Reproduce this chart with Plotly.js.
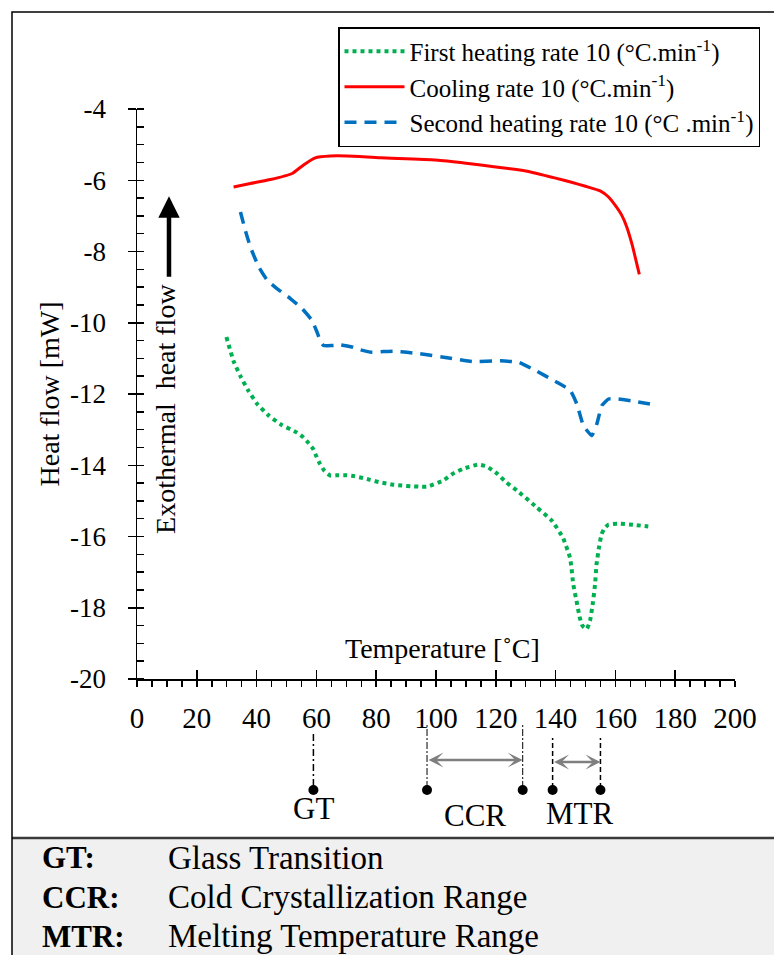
<!DOCTYPE html>
<html>
<head>
<meta charset="utf-8">
<script src="https://cdn.plot.ly/plotly-3.0.1.min.js"></script>
<style>html,body{margin:0;padding:0;background:#fff;}#chart{width:774px;height:955px;}</style>
</head>
<body>
<div id="chart"></div>
<script>
// ---- data ----
const firstHeatT = [29.9, 32.3, 34.6, 37.2, 40.2, 44.0, 48.4, 53.2, 55.4, 57.2, 58.9, 60.0, 61.2, 62.7, 64.7, 67.4, 70.2, 72.8, 75.6, 78.0, 80.8, 83.4, 86.0, 88.7, 91.6, 94.2, 97.1, 102.4, 105.6, 109.1, 114.1, 116.9, 120.5, 123.5, 127.1, 133.8, 138.8, 142.5, 144.8, 145.3, 145.9, 147.0, 148.1, 149.0, 150.4, 151.5, 152.4, 153.2, 153.7, 154.6, 155.4, 156.2, 157.6, 160.6, 165.9, 171.0];
const firstHeatHF = [-10.40, -11.08, -11.50, -11.90, -12.28, -12.60, -12.87, -13.07, -13.20, -13.36, -13.54, -13.75, -13.96, -14.16, -14.29, -14.28, -14.28, -14.31, -14.36, -14.41, -14.47, -14.51, -14.55, -14.57, -14.59, -14.60, -14.60, -14.43, -14.24, -14.10, -13.98, -14.03, -14.24, -14.48, -14.71, -15.19, -15.56, -16.04, -16.59, -16.87, -17.34, -17.81, -18.28, -18.51, -18.60, -18.37, -17.90, -17.34, -16.78, -16.26, -15.93, -15.79, -15.67, -15.64, -15.67, -15.72];

const coolingT = [32.3, 37.9, 44.6, 51.9, 55.7, 59.6, 64.7, 70.2, 81.4, 100, 110, 120, 130, 140, 145, 150, 154.9, 157.7, 159.9, 162.1, 163.8, 165.5, 166.6, 168.0];
const coolingHF = [-6.19, -6.09, -5.98, -5.81, -5.57, -5.37, -5.32, -5.32, -5.37, -5.43, -5.52, -5.63, -5.74, -5.94, -6.05, -6.17, -6.30, -6.47, -6.70, -6.98, -7.31, -7.78, -8.15, -8.64];

const secondHeatT = [34.6, 36.2, 37.9, 40.7, 43.5, 46.8, 51.3, 55.2, 58.5, 60.2, 61.3, 62.4, 65.2, 68.0, 71.9, 74.7, 78.6, 82.5, 86.4, 90.3, 94.5, 103.7, 112.0, 121.5, 127.6, 133.7, 140.4, 144.9, 147.1, 149.3, 152.1, 153.8, 155.5, 157.7, 159.9, 166.0, 172.7];
const secondHeatHF = [-6.89, -7.40, -7.87, -8.43, -8.80, -9.04, -9.32, -9.60, -9.93, -10.26, -10.50, -10.64, -10.64, -10.62, -10.68, -10.76, -10.83, -10.81, -10.80, -10.83, -10.87, -10.98, -11.09, -11.07, -11.11, -11.36, -11.67, -11.90, -12.28, -12.89, -13.17, -12.84, -12.32, -12.14, -12.13, -12.20, -12.30];

const seriesNames = [
  'First heating rate 10 (°C.min<sup>-1</sup>)',
  'Cooling rate 10 (°C.min<sup>-1</sup>)',
  'Second heating rate 10 (°C .min<sup>-1</sup>)'
];

const yTickVals = [-20, -18, -16, -14, -12, -10, -8, -6, -4];
const yTickText = ['-20', '-18', '-16', '-14', '-12', '-10', '-8', '-6', '-4'];
const xTickVals = [0, 20, 40, 60, 80, 100, 120, 140, 160, 180, 200];
const xTickText = ['0', '20', '40', '60', '80', '100', '120', '140', '160', '180', '200'];

// marker temperatures (°C)
const glassTransition = [59];
const coldCrystRange = [97, 129];
const meltRange = [139, 155];

const legendKeys = ['GT:', 'CCR:', 'MTR:'];
const legendDescs = ['Glass Transition', 'Cold Crystallization Range', 'Melting Temperature Range'];

// ---- layout helpers (pixel -> paper) ----
const L = 137, R = 39, T = 109, B = 276, W = 774, H = 955;
const pw = W - L - R, ph = H - T - B;
const px = v => (v - L) / pw;
const py = v => (H - B - v) / ph;

const FONT = 'Liberation Serif';

const traces = [
  {x: firstHeatT, y: firstHeatHF, name: seriesNames[0], mode: 'lines',
   line: {color: '#00b050', width: 4, dash: '4px,4px', shape: 'spline', smoothing: 0.4}},
  {x: coolingT, y: coolingHF, name: seriesNames[1], mode: 'lines',
   line: {color: '#ff0000', width: 3, shape: 'spline', smoothing: 0.5}},
  {x: secondHeatT, y: secondHeatHF, name: seriesNames[2], mode: 'lines',
   line: {color: '#0070c0', width: 3.5, dash: '12px,8px', shape: 'spline', smoothing: 0.4}},
  {x: [], y: [], xaxis: 'x2', yaxis: 'y2', showlegend: false, hoverinfo: 'skip', mode: 'lines'}
];

const shapes = [];
const annotations = [];

// outer frame and bottom grey panel
shapes.push({type: 'rect', xref: 'paper', yref: 'paper', x0: px(12), x1: px(790), y0: py(838), y1: py(970),
  fillcolor: '#f0f0f0', line: {width: 0}, layer: 'below'});
shapes.push({type: 'line', xref: 'paper', yref: 'paper', x0: px(12), x1: px(790), y0: py(838), y1: py(838),
  line: {color: '#3a3a3a', width: 2.5}});
shapes.push({type: 'rect', xref: 'paper', yref: 'paper', x0: px(12), x1: px(790), y0: py(970), y1: py(12),
  line: {color: '#000', width: 1.5}, fillcolor: 'rgba(0,0,0,0)'});

// marker lines and dots below the axis
function vline(t, top, bot, dash, w) {
  shapes.push({type: 'line', xref: 'x', yref: 'paper', x0: t, x1: t, y0: py(bot), y1: py(top),
    line: {color: '#000', width: w, dash: dash}});
}
function dot(t) {
  shapes.push({type: 'circle', xref: 'x', yref: 'paper', xsizemode: 'pixel', ysizemode: 'pixel',
    xanchor: t, yanchor: py(790), x0: -5, x1: 5, y0: -5, y1: 5,
    fillcolor: '#000', line: {color: '#000', width: 0}});
}
glassTransition.forEach(t => { vline(t, 733, 786, '7px,3px,2px,3px', 1.5); dot(t); });
coldCrystRange.forEach(t => { vline(t, 725, 788, '7px,2px,2px,2px', 1); dot(t); });
meltRange.forEach(t => { vline(t, 738, 788, '5px,3px', 1.5); dot(t); });

// grey double arrows
function dblArrow(a, b, ypix) {
  annotations.push({x: b, y: py(ypix), xref: 'x', yref: 'paper', ax: a, axref: 'x', ay: 0, ayref: 'pixel',
    text: '', showarrow: true, arrowside: 'end+start', arrowhead: 3, startarrowhead: 3,
    arrowsize: 1.0, startarrowsize: 1.0, arrowwidth: 2.5, arrowcolor: '#7f7f7f', standoff: 0, startstandoff: 0});
}
dblArrow(coldCrystRange[0], coldCrystRange[1], 760);
dblArrow(meltRange[0], meltRange[1], 762);

// marker labels
const lblFont = {family: FONT, size: 31, color: '#000'};
annotations.push({x: glassTransition[0], y: py(808), xref: 'x', yref: 'paper', xanchor: 'center', yanchor: 'middle', text: 'GT', showarrow: false, font: lblFont});
annotations.push({x: (coldCrystRange[0] + coldCrystRange[1]) / 2, y: py(815), xref: 'x', yref: 'paper', xanchor: 'center', yanchor: 'middle', text: 'CCR', showarrow: false, font: lblFont});
annotations.push({x: (meltRange[0] + meltRange[1]) / 2 + 1, y: py(813), xref: 'x', yref: 'paper', xanchor: 'center', yanchor: 'middle', text: 'MTR', showarrow: false, font: lblFont});

// bottom key
const keyY = [858, 897, 936];
legendKeys.forEach((k, i) => {
  annotations.push({x: px(40), y: py(keyY[i]), xref: 'paper', yref: 'paper', xanchor: 'left', yanchor: 'middle', text: '<b>' + k + '</b>',
    showarrow: false, font: {family: FONT, size: 31, color: '#000'}});
  annotations.push({x: px(166), y: py(keyY[i]), xref: 'paper', yref: 'paper', xanchor: 'left', yanchor: 'middle', text: legendDescs[i],
    showarrow: false, font: {family: FONT, size: 33, color: '#000'}});
});

// in-plot x axis title
annotations.push({x: 102.3, y: -19.15, xref: 'x', yref: 'y', xanchor: 'center', yanchor: 'middle', text: 'Temperature [˚C]', showarrow: false,
  font: {family: FONT, size: 28, color: '#000'}});

// exothermal arrow & text
annotations.push({x: 10.7, y: -6.45, xref: 'x', yref: 'y', ax: 10.7, ay: -8.75, axref: 'x', ayref: 'y',
  text: '', showarrow: true, arrowhead: 2, arrowsize: 0.95, arrowwidth: 4.5, arrowcolor: '#000', standoff: 0});
annotations.push({x: 9.7, y: -12.42, xref: 'x', yref: 'y', xanchor: 'center', yanchor: 'middle', text: 'Exothermal  heat flow', textangle: -90, showarrow: false,
  font: {family: FONT, size: 28, color: '#000'}});

const xTickFont = {family: FONT, size: 29, color: '#000'};
const yTickFont = {family: FONT, size: 27, color: '#000'};

const layout = {
  width: W, height: H,
  margin: {l: L, r: R, t: T, b: B, pad: 0},
  paper_bgcolor: '#fff', plot_bgcolor: 'rgba(0,0,0,0)',
  font: {family: FONT, color: '#000'},
  showlegend: true,
  legend: {x: px(338), y: py(27), xanchor: 'left', yanchor: 'top', bgcolor: '#fff',
    bordercolor: '#000', borderwidth: 1.5, font: {family: FONT, size: 25, color: '#000'},
    itemwidth: 60, tracegroupgap: 0},
  xaxis: {range: [0, 200], showline: true, linecolor: '#000', linewidth: 1.5, showgrid: false, zeroline: false,
    tickmode: 'array', tickvals: xTickVals, ticktext: xTickText, ticks: 'outside', ticklen: 6, tickwidth: 1.5, tickcolor: '#000',
    minor: {dtick: 5, ticks: 'outside', ticklen: 6, tickwidth: 1.5, tickcolor: '#000', showgrid: false},
    tickfont: xTickFont, ticklabelstandoff: 7, fixedrange: true},
  yaxis: {range: [-20, -4], showline: true, linecolor: '#000', linewidth: 1.5, showgrid: false, zeroline: false,
    tickmode: 'array', tickvals: yTickVals, ticktext: yTickText, ticks: 'outside', ticklen: 8, tickwidth: 1.5, tickcolor: '#000',
    minor: {dtick: 0.5, tick0: 0, ticks: 'inside', ticklen: 7, tickwidth: 1.5, tickcolor: '#000', showgrid: false},
    tickfont: yTickFont, ticklabelstandoff: 16,
    title: {text: 'Heat flow [mW]', font: {family: FONT, size: 28, color: '#000'}, standoff: 2}, fixedrange: true},
  xaxis2: {range: [0, 200], overlaying: 'x', anchor: 'y2', side: 'bottom', showline: false, showgrid: false, zeroline: false,
    tickmode: 'array', tickvals: xTickVals, ticks: 'inside', ticklen: 9, tickwidth: 1.5, tickcolor: '#000', showticklabels: false, fixedrange: true},
  yaxis2: {range: [-20, -4], overlaying: 'y', anchor: 'x2', side: 'left', showline: false, showgrid: false, zeroline: false,
    tickmode: 'array', tickvals: yTickVals, ticks: 'inside', ticklen: 7, tickwidth: 1.5, tickcolor: '#000', showticklabels: false, fixedrange: true},
  shapes: shapes,
  annotations: annotations
};

Plotly.newPlot('chart', traces, layout, {displayModeBar: false, staticPlot: true});
</script>
</body>
</html>
